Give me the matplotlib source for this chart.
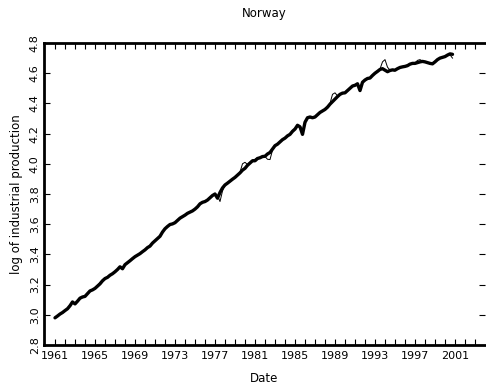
import numpy as np
import matplotlib
matplotlib.use("Agg")
import matplotlib.pyplot as plt

title = "Norway"
xlabel = "Date"
ylabel = "log of industrial production"
start_year = 1961.0
x_tick_labels = ["1961", "1965", "1969", "1973", "1977", "1981", "1985",
                 "1989", "1993", "1997", "2001"]
y_tick_labels = ["2.8", "3.0", "3.2", "3.4", "3.6", "3.8", "4.0", "4.2",
                 "4.4", "4.6", "4.8"]

# quarterly values, 1961Q1 .. 2000Q4 (thick series)
actual = [
    2.980, 2.992, 3.005, 3.015,
    3.028, 3.040, 3.060, 3.085,
    3.072, 3.090, 3.110, 3.118,
    3.122, 3.140, 3.158, 3.165,
    3.175, 3.190, 3.205, 3.225,
    3.240, 3.248, 3.262, 3.272,
    3.285, 3.300, 3.318, 3.305,
    3.332, 3.345, 3.358, 3.372,
    3.385, 3.395, 3.405, 3.418,
    3.430, 3.445, 3.455, 3.475,
    3.490, 3.505, 3.520, 3.548,
    3.570, 3.585, 3.598, 3.602,
    3.610, 3.625, 3.640, 3.650,
    3.660, 3.672, 3.680, 3.688,
    3.700, 3.715, 3.735, 3.745,
    3.750, 3.760, 3.775, 3.790,
    3.800, 3.772, 3.810, 3.840,
    3.860, 3.872, 3.885, 3.898,
    3.910, 3.925, 3.940, 3.958,
    3.970, 3.990, 4.005, 4.020,
    4.020, 4.035, 4.040, 4.048,
    4.050, 4.065, 4.075, 4.098,
    4.120, 4.130, 4.145, 4.160,
    4.170, 4.185, 4.195, 4.215,
    4.230, 4.255, 4.245, 4.195,
    4.275, 4.305, 4.310, 4.305,
    4.310, 4.325, 4.340, 4.350,
    4.360, 4.375, 4.395, 4.412,
    4.430, 4.445, 4.460, 4.468,
    4.470, 4.485, 4.500, 4.515,
    4.520, 4.530, 4.485, 4.540,
    4.555, 4.565, 4.568, 4.585,
    4.600, 4.612, 4.625, 4.630,
    4.620, 4.610, 4.618, 4.622,
    4.620, 4.630, 4.638, 4.642,
    4.645, 4.650, 4.660, 4.665,
    4.665, 4.670, 4.675, 4.678,
    4.675, 4.670, 4.665, 4.662,
    4.675, 4.690, 4.700, 4.705,
    4.710, 4.720, 4.728, 4.725,
]

# quarterly values, 1961Q1 .. 2000Q4 (thin series)
fitted = [
    2.982, 2.990, 3.002, 3.012,
    3.025, 3.038, 3.065, 3.080,
    3.078, 3.088, 3.106, 3.120,
    3.125, 3.142, 3.160, 3.168,
    3.178, 3.195, 3.215, 3.232,
    3.245, 3.252, 3.262, 3.275,
    3.288, 3.302, 3.315, 3.310,
    3.330, 3.342, 3.356, 3.370,
    3.383, 3.394, 3.404, 3.420,
    3.432, 3.446, 3.458, 3.478,
    3.492, 3.508, 3.522, 3.550,
    3.568, 3.582, 3.596, 3.604,
    3.612, 3.628, 3.642, 3.652,
    3.662, 3.674, 3.682, 3.690,
    3.702, 3.718, 3.738, 3.748,
    3.752, 3.762, 3.778, 3.792,
    3.800, 3.790, 3.750, 3.820,
    3.858, 3.870, 3.882, 3.895,
    3.908, 3.924, 3.945, 4.000,
    4.010, 3.995, 4.010, 4.025,
    4.030, 4.040, 4.042, 4.050,
    4.048, 4.030, 4.028, 4.090,
    4.118, 4.128, 4.142, 4.158,
    4.168, 4.182, 4.198, 4.220,
    4.235, 4.252, 4.240, 4.210,
    4.280, 4.300, 4.308, 4.300,
    4.308, 4.322, 4.338, 4.348,
    4.362, 4.380, 4.400, 4.460,
    4.470, 4.450, 4.462, 4.470,
    4.472, 4.488, 4.502, 4.518,
    4.525, 4.520, 4.500, 4.545,
    4.552, 4.562, 4.570, 4.588,
    4.602, 4.615, 4.628, 4.675,
    4.690, 4.640, 4.620, 4.618,
    4.615, 4.628, 4.635, 4.640,
    4.648, 4.655, 4.662, 4.668,
    4.668, 4.685, 4.690, 4.680,
    4.672, 4.668, 4.662, 4.665,
    4.678, 4.688, 4.698, 4.706,
    4.712, 4.718, 4.722, 4.700,
]

dates = start_year + np.arange(len(actual)) / 4.0

fig = plt.figure(figsize=(4.86, 3.92), dpi=100)
ax = fig.add_axes([44 / 486, 1 - 345 / 392, 441 / 486, 302 / 392])

ax.plot(dates, actual, color="black", lw=2.4, solid_joinstyle="round",
        solid_capstyle="round")
ax.plot(dates, fitted, color="black", lw=0.7)

ax.set_xlim(1959.9, 2004.0)
ax.set_ylim(2.8, 4.8)

ax.set_xticks([float(s) for s in x_tick_labels])
ax.set_xticklabels(x_tick_labels)
ax.set_xticks(np.arange(1961, 2004, 1), minor=True)
ax.set_yticks([float(s) for s in y_tick_labels])
ax.set_yticklabels(y_tick_labels, rotation=90, va="center")

ax.tick_params(axis="both", which="both", direction="in", length=4,
               width=0.8, labelsize=8, color="black")
ax.tick_params(axis="x", which="both", top=True, bottom=True, pad=4)
ax.tick_params(axis="y", which="both", left=True, right=True, pad=3)

for side in ("left", "bottom", "top"):
    ax.spines[side].set_linewidth(2.0)
ax.spines["right"].set_visible(False)

ax.set_title(title, fontsize=8.5, pad=19)
ax.set_xlabel(xlabel, fontsize=8.5, labelpad=8)
ax.set_ylabel(ylabel, fontsize=8.5, labelpad=5)

fig.savefig("out.png", dpi=100)
